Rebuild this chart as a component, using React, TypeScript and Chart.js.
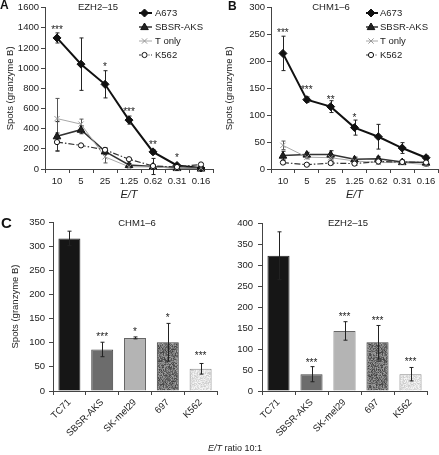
import React, { useEffect, useRef } from 'react';
import { Chart, registerables } from 'chart.js';
Chart.register(...registerables);

const FONT = "'Liberation Sans', Arial, Helvetica, sans-serif";

// ---------- data ----------
const ratioLabels = ['10', '5', '25', '1.25', '0.62', '0.31', '0.16'];
const seriesNames = ['A673', 'SBSR-AKS', 'T only', 'K562'];

// Panel A: EZH2-15
const ezhA673 = [1300, 1040, 840, 485, 170, 35, 10];
const ezhA673Err = [50, 260, 135, 40, 20, 8, 5];
const ezhSbsr = [325, 390, 175, 40, 25, 10, 5];
const ezhSbsrErr = [145, 40, 30, 15, 80, 5, 5];
const ezhTonly = [500, 445, 120, 22, 20, 8, 8];
const ezhTonlyErr = [200, 50, 60, 10, 10, 5, 5];
const ezhK562 = [267, 234, 190, 97, 30, 20, 45];
const ezhK562Err = [90, 10, 20, 10, 10, 5, 8];
const ezhStars = ['***', '', '*', '***', '**', '*', ''];
const ezhStarAt = [1405, 0, 1034, 595, 263, 137, 0];

// Panel B: CHM1-6
const chmA673 = [215, 129, 116, 77, 60, 39, 21];
const chmA673Err = [32, 5, 11, 14, 23, 10, 4];
const chmSbsr = [25, 27, 27, 18, 19, 13, 12];
const chmSbsrErr = [8, 4, 7, 4, 4, 4, 3];
const chmTonly = [44, 22, 21, 15, 12, 12, 8];
const chmTonlyErr = [8, 3, 4, 3, 3, 3, 3];
const chmK562 = [12, 8, 11, 10, 14, 13, 12];
const chmK562Err = [3, 2, 3, 3, 3, 3, 3];
const chmStars = ['***', '***', '**', '*', '', '', ''];
const chmStarAt = [258, 152, 134, 99, 0, 0, 0];

// Panel C
const barCategories = ['TC71', 'SBSR-AKS', 'SK-mel29', '697', 'K562'];
const chmBars = [316, 86, 110, 101, 46];
const chmBarsErr = [15, 15, 2, 39, 11];
const chmBarStars = ['', '***', '*', '*', '***'];
const chmBarStarAt = [0, 118, 128, 157, 79];
const ezhBars = [322, 40, 143, 116, 40];
const ezhBarsErr = [57, 18, 22, 40, 16];
const ezhBarStars = ['', '***', '***', '***', '***'];
const ezhBarStarAt = [0, 74, 183, 174, 76];

// ---------- styles ----------
const lineStyles = [
  { color: '#111', width: 2, dash: [] as number[], point: 'rectRot', radius: 4, fill: '#111', err: '#222' },
  { color: '#333', width: 1.5, dash: [] as number[], point: 'triangle', radius: 4, fill: '#222', err: '#222' },
  { color: '#a8a8a8', width: 1, dash: [] as number[], point: 'crossRot', radius: 3.5, fill: '#888', err: '#555' },
  { color: '#333', width: 1.2, dash: [6, 2, 1.5, 2], point: 'circle', radius: 2.6, fill: '#fff', err: '#333' },
];

function drawMarker(ctx: CanvasRenderingContext2D, style: string, x: number, y: number, r: number, fill: string, stroke: string) {
  ctx.save();
  ctx.setLineDash([]);
  ctx.fillStyle = fill;
  ctx.strokeStyle = stroke;
  ctx.lineWidth = 1;
  ctx.beginPath();
  if (style === 'rectRot') {
    ctx.moveTo(x, y - r); ctx.lineTo(x + r, y); ctx.lineTo(x, y + r); ctx.lineTo(x - r, y); ctx.closePath();
    ctx.fill(); ctx.stroke();
  } else if (style === 'triangle') {
    ctx.moveTo(x, y - r); ctx.lineTo(x + r * 0.95, y + r * 0.65); ctx.lineTo(x - r * 0.95, y + r * 0.65); ctx.closePath();
    ctx.fill(); ctx.stroke();
  } else if (style === 'crossRot') {
    const d = r * 0.75;
    ctx.moveTo(x - d, y - d); ctx.lineTo(x + d, y + d); ctx.moveTo(x + d, y - d); ctx.lineTo(x - d, y + d);
    ctx.strokeStyle = stroke; ctx.stroke();
  } else {
    ctx.arc(x, y, r, 0, Math.PI * 2);
    ctx.fill(); ctx.stroke();
  }
  ctx.restore();
}

function makeLineDatasets(values: number[][], errs: number[][]) {
  return values.map((vals, i) => {
    const s = lineStyles[i];
    return {
      label: seriesNames[i],
      data: vals,
      errors: errs[i],
      errorColor: s.err,
      borderColor: s.color,
      borderWidth: s.width,
      borderDash: s.dash,
      backgroundColor: s.fill,
      pointStyle: false as any,
      pointRadius: 0,
      tension: 0,
      fill: false,
      markerStyle: s.point,
      markerRadius: s.radius,
      markerFill: s.fill,
      order: 4 - i,
    };
  });
}

function errorBarPlugin(capHalf: number) {
  return {
    id: 'errbars',
    afterDatasetsDraw(chart: any) {
      const ctx = chart.ctx as CanvasRenderingContext2D;
      const y = chart.scales.y;
      chart.data.datasets.forEach((ds: any, i: number) => {
        const errs = ds.errors as number[] | undefined;
        if (!errs) return;
        const meta = chart.getDatasetMeta(i);
        ctx.save();
        ctx.strokeStyle = ds.errorColor || '#222';
        ctx.lineWidth = 1;
        ctx.setLineDash([]);
        meta.data.forEach((el: any, j: number) => {
          const v = ds.data[j];
          const e = errs[j];
          if (!e) return;
          const x = Math.round(el.x) + 0.5;
          const yt = y.getPixelForValue(v + e);
          const yb = y.getPixelForValue(v - e);
          ctx.beginPath();
          ctx.moveTo(x, yt); ctx.lineTo(x, yb);
          ctx.moveTo(x - capHalf, yt); ctx.lineTo(x + capHalf, yt);
          ctx.moveTo(x - capHalf, yb); ctx.lineTo(x + capHalf, yb);
          ctx.stroke();
        });
        ctx.restore();
      });
      chart.data.datasets.forEach((ds: any, i: number) => {
        if (!ds.markerStyle) return;
        const meta = chart.getDatasetMeta(i);
        meta.data.forEach((el: any) => {
          drawMarker(ctx, ds.markerStyle, el.x, el.y, ds.markerRadius, ds.markerFill, ds.borderColor === '#a8a8a8' ? '#999' : '#111');
        });
      });
    },
  };
}

function starPlugin(labels: string[], at: number[]) {
  return {
    id: 'stars',
    afterDraw(chart: any) {
      const ctx = chart.ctx as CanvasRenderingContext2D;
      const meta = chart.getDatasetMeta(0);
      const y = chart.scales.y;
      ctx.save();
      ctx.font = `10px ${FONT}`;
      ctx.fillStyle = '#222';
      ctx.textAlign = 'center';
      ctx.textBaseline = 'alphabetic';
      labels.forEach((lab, j) => {
        if (!lab) return;
        const x = meta.data[j].x;
        const py = y.getPixelForValue(at[j]);
        ctx.fillText(lab, x, py + 5.7);
      });
      ctx.restore();
    },
  };
}

function decorPlugin(title: string, tx: number, ty: number, legend?: { x0: number; x1: number; tx: number; ys: number[] }) {
  return {
    id: 'decor',
    afterDraw(chart: any) {
      const ctx = chart.ctx as CanvasRenderingContext2D;
      ctx.save();
      ctx.font = `9.5px ${FONT}`;
      ctx.fillStyle = '#222';
      ctx.textAlign = 'center';
      ctx.textBaseline = 'middle';
      ctx.fillText(title, tx, ty);
      if (legend) {
        seriesNames.forEach((name, i) => {
          const s = lineStyles[i];
          const y = legend.ys[i];
          ctx.save();
          ctx.strokeStyle = s.color;
          ctx.lineWidth = s.width;
          ctx.setLineDash(s.dash.length ? [2, 1.5, 1, 1.5] : []);
          ctx.beginPath();
          ctx.moveTo(legend.x0, y);
          ctx.lineTo(legend.x1, y);
          ctx.stroke();
          ctx.restore();
          drawMarker(ctx, s.point, (legend.x0 + legend.x1) / 2 - 1, y, s.radius, s.fill, i === 2 ? '#999' : '#111');
          ctx.save();
          ctx.font = `9.5px ${FONT}`;
          ctx.fillStyle = '#222';
          ctx.textAlign = 'left';
          ctx.textBaseline = 'middle';
          ctx.fillText(name, legend.tx, y);
          ctx.restore();
        });
      }
      ctx.restore();
    },
  };
}

const axisColor = '#444';
const tickColor = '#222';
const plainTick = (v: any) => String(v);

function lineOptions(max: number, step: number, yWidth: number, padRight: number, withTitle: boolean) {
  return {
    animation: false,
    responsive: false,
    maintainAspectRatio: false,
    devicePixelRatio: 1,
    events: [],
    layout: { padding: { left: 0, right: padRight, top: 5, bottom: 0 }, autoPadding: false },
    plugins: { legend: { display: false }, tooltip: { enabled: false }, title: { display: false } },
    scales: {
      x: {
        type: 'category',
        offset: true,
        grid: { display: true, drawOnChartArea: false, offset: true, tickLength: 4, color: axisColor },
        border: { color: axisColor, width: 1 },
        ticks: { font: { family: FONT, size: 9.5 }, color: tickColor, padding: 3, autoSkip: false, maxRotation: 0 },
        title: { display: true, text: 'E/T', font: { family: FONT, size: 11, style: 'italic' }, color: tickColor, padding: { top: 0, bottom: 3 } },
        afterFit(s: any) { s.height = 36; },
      },
      y: {
        min: 0,
        max,
        grid: { display: true, drawOnChartArea: false, tickLength: 4, color: axisColor },
        border: { color: axisColor, width: 1 },
        ticks: { stepSize: step, font: { family: FONT, size: 9.5 }, color: tickColor, padding: 2, callback: plainTick },
        title: { display: withTitle, text: 'Spots (granzyme B)', font: { family: FONT, size: 9.5 }, color: tickColor, padding: { top: 5, bottom: 0 } },
        afterFit(s: any) { s.width = yWidth; },
      },
    },
  } as any;
}

function barOptions(max: number, yWidth: number, padRight: number, padTop: number, withTitle: boolean, tickPad: number) {
  return {
    animation: false,
    responsive: false,
    maintainAspectRatio: false,
    devicePixelRatio: 1,
    events: [],
    layout: { padding: { left: 0, right: padRight, top: padTop, bottom: 0 }, autoPadding: false },
    plugins: { legend: { display: false }, tooltip: { enabled: false }, title: { display: false } },
    scales: {
      x: {
        type: 'category',
        offset: true,
        grid: { display: true, drawOnChartArea: false, offset: true, tickLength: 4, color: axisColor },
        border: { color: axisColor, width: 1 },
        ticks: { font: { family: FONT, size: 9.5 }, color: tickColor, padding: 2, autoSkip: false, minRotation: 45, maxRotation: 45 },
        afterFit(s: any) { s.height = 64; },
      },
      y: {
        min: 0,
        max,
        grid: { display: true, drawOnChartArea: false, tickLength: 4, color: axisColor },
        border: { color: axisColor, width: 1 },
        ticks: { stepSize: 50, font: { family: FONT, size: 9.5 }, color: tickColor, padding: tickPad, callback: plainTick },
        title: { display: withTitle, text: 'Spots (granzyme B)', font: { family: FONT, size: 9.5 }, color: tickColor, padding: { top: 10, bottom: 0 } },
        afterFit(s: any) { s.width = yWidth; },
      },
    },
  } as any;
}

function hash(x: number, y: number, seed: number) {
  let h = (x * 374761393 + y * 668265263 + seed * 982451653) | 0;
  h = Math.imul(h ^ (h >>> 13), 1274126177);
  h = h ^ (h >>> 16);
  return ((h >>> 0) % 1000) / 1000;
}

function makeSpeckle(ctx: CanvasRenderingContext2D, base: number, spread: number, seed: number) {
  const c = document.createElement('canvas');
  c.width = 32; c.height = 32;
  const g = c.getContext('2d')!;
  const img = g.createImageData(32, 32);
  for (let yy = 0; yy < 32; yy++) {
    for (let xx = 0; xx < 32; xx++) {
      const r = hash(xx, yy, seed);
      const v = Math.max(0, Math.min(255, Math.round(base + (r - 0.5) * spread)));
      const k = (yy * 32 + xx) * 4;
      img.data[k] = v; img.data[k + 1] = v; img.data[k + 2] = v; img.data[k + 3] = 255;
    }
  }
  g.putImageData(img, 0, 0);
  return ctx.createPattern(c, 'repeat')!;
}

function barDataset(ctx: CanvasRenderingContext2D, vals: number[], errs: number[]) {
  const colors = ['#161616', '#6c6c6c', '#b4b4b4', makeSpeckle(ctx, 112, 95, 7), makeSpeckle(ctx, 226, 45, 3)];
  return {
    data: vals,
    errors: errs,
    errorColor: '#222',
    backgroundColor: colors,
    borderColor: ['#222', '#444', '#666', '#444', '#888'],
    borderWidth: 1,
    barPercentage: 0.67,
    categoryPercentage: 1,
  };
}

export default function App() {
  const aRef = useRef<HTMLCanvasElement>(null);
  const bRef = useRef<HTMLCanvasElement>(null);
  const clRef = useRef<HTMLCanvasElement>(null);
  const crRef = useRef<HTMLCanvasElement>(null);

  useEffect(() => {
    const charts: Chart[] = [];
    charts.push(new Chart(aRef.current!, {
      type: 'line',
      data: {
        labels: ratioLabels,
        datasets: makeLineDatasets([ezhA673, ezhSbsr, ezhTonly, ezhK562], [ezhA673Err, ezhSbsrErr, ezhTonlyErr, ezhK562Err]) as any,
      },
      options: lineOptions(1600, 200, 45, 6, true),
      plugins: [errorBarPlugin(2), starPlugin(ezhStars, ezhStarAt), decorPlugin('EZH2–15', 98, 7, { x0: 139, x1: 152, tx: 155, ys: [13, 27, 41, 55] })],
    }));
    charts.push(new Chart(bRef.current!, {
      type: 'line',
      data: {
        labels: ratioLabels,
        datasets: makeLineDatasets([chmA673, chmSbsr, chmTonly, chmK562], [chmA673Err, chmSbsrErr, chmTonlyErr, chmK562Err]) as any,
      },
      options: lineOptions(300, 50, 52, 1, true),
      plugins: [errorBarPlugin(2), starPlugin(chmStars, chmStarAt), decorPlugin('CHM1–6', 112, 7, { x0: 147, x1: 159, tx: 161, ys: [13, 27, 41, 55] })],
    }));
    const clCtx = clRef.current!.getContext('2d')!;
    charts.push(new Chart(clRef.current!, {
      type: 'bar',
      data: { labels: barCategories, datasets: [barDataset(clCtx, chmBars, chmBarsErr) as any] },
      options: barOptions(350, 53, 2, 17, true, 4),
      plugins: [errorBarPlugin(2), starPlugin(chmBarStars, chmBarStarAt), decorPlugin('CHM1–6', 137, 18)],
    }));
    const crCtx = crRef.current!.getContext('2d')!;
    charts.push(new Chart(crRef.current!, {
      type: 'bar',
      data: { labels: barCategories, datasets: [barDataset(crCtx, ezhBars, ezhBarsErr) as any] },
      options: barOptions(400, 43, 12, 18, false, 5),
      plugins: [errorBarPlugin(2), starPlugin(ezhBarStars, ezhBarStarAt), decorPlugin('EZH2–15', 129, 18)],
    }));
    return () => charts.forEach((c) => c.destroy());
  }, []);

  const letter = (t: string, left: number, top: number, size: number) => (
    <div style={{ position: 'absolute', left, top, fontSize: size, lineHeight: `${size}px`, fontWeight: 700, color: '#111' }}>{t}</div>
  );

  return (
    <div style={{ position: 'fixed', left: 0, top: 0, width: 439, height: 455, background: '#fff', fontFamily: FONT, overflow: 'hidden' }}>
      <canvas ref={aRef} width={219} height={205} style={{ position: 'absolute', left: 0, top: 0 }} />
      <canvas ref={bRef} width={220} height={205} style={{ position: 'absolute', left: 219, top: 0 }} />
      <canvas ref={clRef} width={219} height={250} style={{ position: 'absolute', left: 0, top: 205 }} />
      <canvas ref={crRef} width={220} height={250} style={{ position: 'absolute', left: 219, top: 205 }} />
      {letter('A', 0, -1, 12)}
      {letter('B', 228, 0, 12)}
      {letter('C', 1, 215, 15)}
      <div style={{ position: 'absolute', left: 208, top: 444, fontSize: 9, lineHeight: '9px', color: '#222', whiteSpace: 'nowrap' }}>
        <i>E/T</i> ratio 10:1
      </div>
    </div>
  );
}
